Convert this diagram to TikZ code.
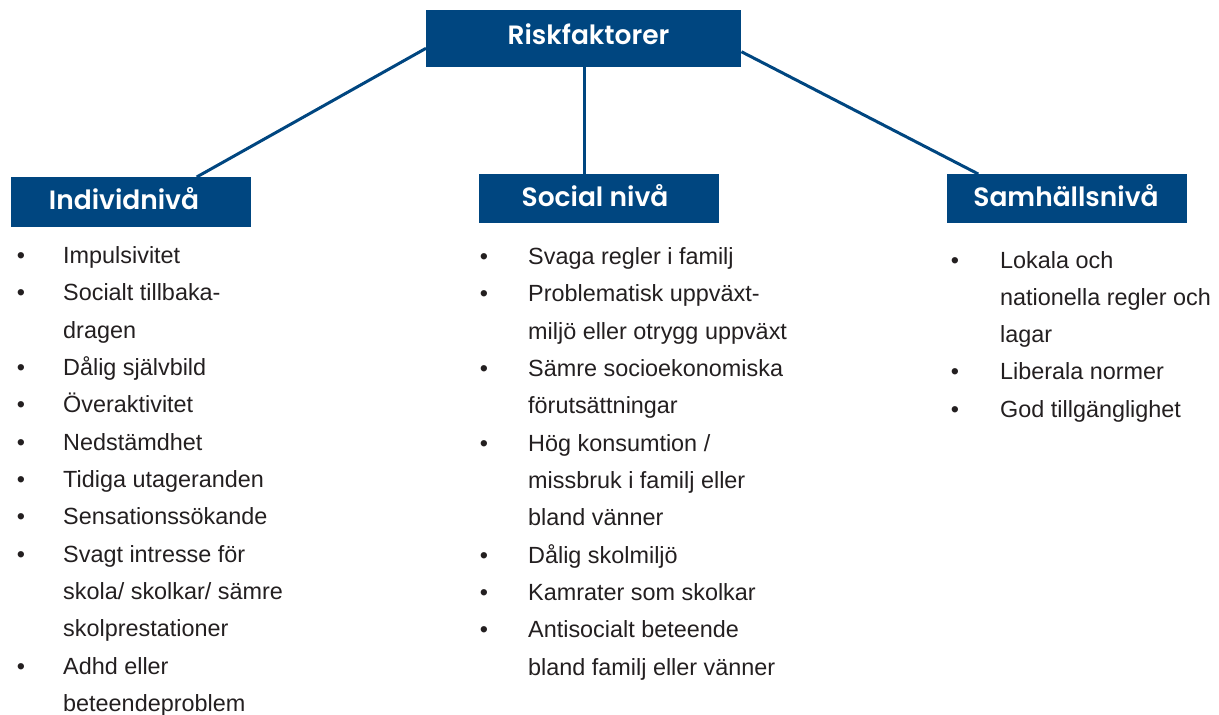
\documentclass[tikz,border=0pt]{standalone}
\usepackage{fontspec}
\setmainfont{Liberation Sans}
\newfontfamily\headfont{Poppins SemiBold}
\usetikzlibrary{calc}
\definecolor{navy}{HTML}{004680}
\definecolor{ink}{HTML}{231F20}
\tikzset{
  hbox/.style={fill=navy, draw=none, inner sep=0pt, anchor=north west},
  htext/.style={anchor=base, text=white, inner sep=0pt, font=\headfont\fontsize{26.5}{30}\selectfont},
  conn/.style={draw=navy, line width=3pt},
  itm/.style={anchor=base west, inner sep=0pt, text=ink, font=\fontsize{23.4}{28}\selectfont},
  bul/.style={anchor=base, inner sep=0pt, text=ink, font=\fontsize{23.4}{28}\selectfont},
}
\begin{document}
\begin{tikzpicture}[x=1pt,y=-1pt]
\useasboundingbox (0,0) rectangle (1219,715);
% boxes
\node[hbox, minimum width=315pt, minimum height=57pt] (risk) at (426,10) {};
\node[hbox, minimum width=240pt, minimum height=50pt] (indiv) at (11,177) {};
\node[hbox, minimum width=240pt, minimum height=49pt] (soc) at (479,174) {};
\node[hbox, minimum width=240pt, minimum height=49pt] (samh) at (947,174) {};
\node[htext] (riskt) at (588.5,44) {Riskfaktorer};
\node[htext] (indivt) at (124,209) {Individnivå};
\node[htext] (soct) at (595,206) {Social nivå};
\node[htext] (samht) at (1066,206) {Samhällsnivå};
% connectors
\draw[conn] ($(risk.north west)+(0,38.3)$) -- ($(indiv.north west)+(185.7,0)$);
\draw[conn] ($(risk.south west)+(158.7,0)$) -- ($(soc.north west)+(105.7,0)$);
\draw[conn] ($(risk.north east)+(0,41.7)$) -- ($(samh.north west)+(31.3,0)$);
% Individniva
\def\ya{263.5}
\node[bul] (ib0) at (21,{\ya+37.33*0}) {•};
\node[itm] (i0) at (63,{\ya+37.33*0}) {Impulsivitet};
\node[bul] (ib1) at (21,{\ya+37.33*1}) {•};
\node[itm] (i1) at (63,{\ya+37.33*1}) {Socialt tillbaka-};
\node[itm] (i2) at (63,{\ya+37.33*2}) {dragen};
\node[bul] (ib3) at (21,{\ya+37.33*3}) {•};
\node[itm] (i3) at (63,{\ya+37.33*3}) {Dålig självbild};
\node[bul] (ib4) at (21,{\ya+37.33*4}) {•};
\node[itm] (i4) at (63,{\ya+37.33*4}) {Överaktivitet};
\node[bul] (ib5) at (21,{\ya+37.33*5}) {•};
\node[itm] (i5) at (63,{\ya+37.33*5}) {Nedstämdhet};
\node[bul] (ib6) at (21,{\ya+37.33*6}) {•};
\node[itm] (i6) at (63,{\ya+37.33*6}) {Tidiga utageranden};
\node[bul] (ib7) at (21,{\ya+37.33*7}) {•};
\node[itm] (i7) at (63,{\ya+37.33*7}) {Sensationssökande};
\node[bul] (ib8) at (21,{\ya+37.33*8}) {•};
\node[itm] (i8) at (63,{\ya+37.33*8}) {Svagt intresse för};
\node[itm] (i9) at (63,{\ya+37.33*9}) {skola/ skolkar/ sämre};
\node[itm] (i10) at (63,{\ya+37.33*10}) {skolprestationer};
\node[bul] (ib11) at (21,{\ya+37.33*11}) {•};
\node[itm] (i11) at (63,{\ya+37.33*11}) {Adhd eller};
\node[itm] (i12) at (63,{\ya+37.33*12}) {beteendeproblem};
% Social niva
\def\yb{264.5}
\node[bul] (sb0) at (484,{\yb+37.33*0}) {•};
\node[itm] (s0) at (528,{\yb+37.33*0}) {Svaga regler i familj};
\node[bul] (sb1) at (484,{\yb+37.33*1}) {•};
\node[itm] (s1) at (528,{\yb+37.33*1}) {Problematisk uppväxt-};
\node[itm] (s2) at (528,{\yb+37.33*2}) {miljö eller otrygg uppväxt};
\node[bul] (sb3) at (484,{\yb+37.33*3}) {•};
\node[itm] (s3) at (528,{\yb+37.33*3}) {Sämre socioekonomiska};
\node[itm] (s4) at (528,{\yb+37.33*4}) {förutsättningar};
\node[bul] (sb5) at (484,{\yb+37.33*5}) {•};
\node[itm] (s5) at (528,{\yb+37.33*5}) {Hög konsumtion /};
\node[itm] (s6) at (528,{\yb+37.33*6}) {missbruk i familj eller};
\node[itm] (s7) at (528,{\yb+37.33*7}) {bland vänner};
\node[bul] (sb8) at (484,{\yb+37.33*8}) {•};
\node[itm] (s8) at (528,{\yb+37.33*8}) {Dålig skolmiljö};
\node[bul] (sb9) at (484,{\yb+37.33*9}) {•};
\node[itm] (s9) at (528,{\yb+37.33*9}) {Kamrater som skolkar};
\node[bul] (sb10) at (484,{\yb+37.33*10}) {•};
\node[itm] (s10) at (528,{\yb+37.33*10}) {Antisocialt beteende};
\node[itm] (s11) at (528,{\yb+37.33*11}) {bland familj eller vänner};
% Samhallsniva
\def\yc{268}
\node[bul] (mb0) at (955,{\yc+37.33*0}) {•};
\node[itm] (m0) at (1000,{\yc+37.33*0}) {Lokala och};
\node[itm] (m1) at (1000,{\yc+37.33*1}) {nationella regler och};
\node[itm] (m2) at (1000,{\yc+37.33*2}) {lagar};
\node[bul] (mb3) at (955,{\yc+37.33*3}) {•};
\node[itm] (m3) at (1000,{\yc+37.33*3}) {Liberala normer};
\node[bul] (mb4) at (955,{\yc+37.33*4}) {•};
\node[itm] (m4) at (1000,{\yc+37.33*4}) {God tillgänglighet};
\end{tikzpicture}
\end{document}
